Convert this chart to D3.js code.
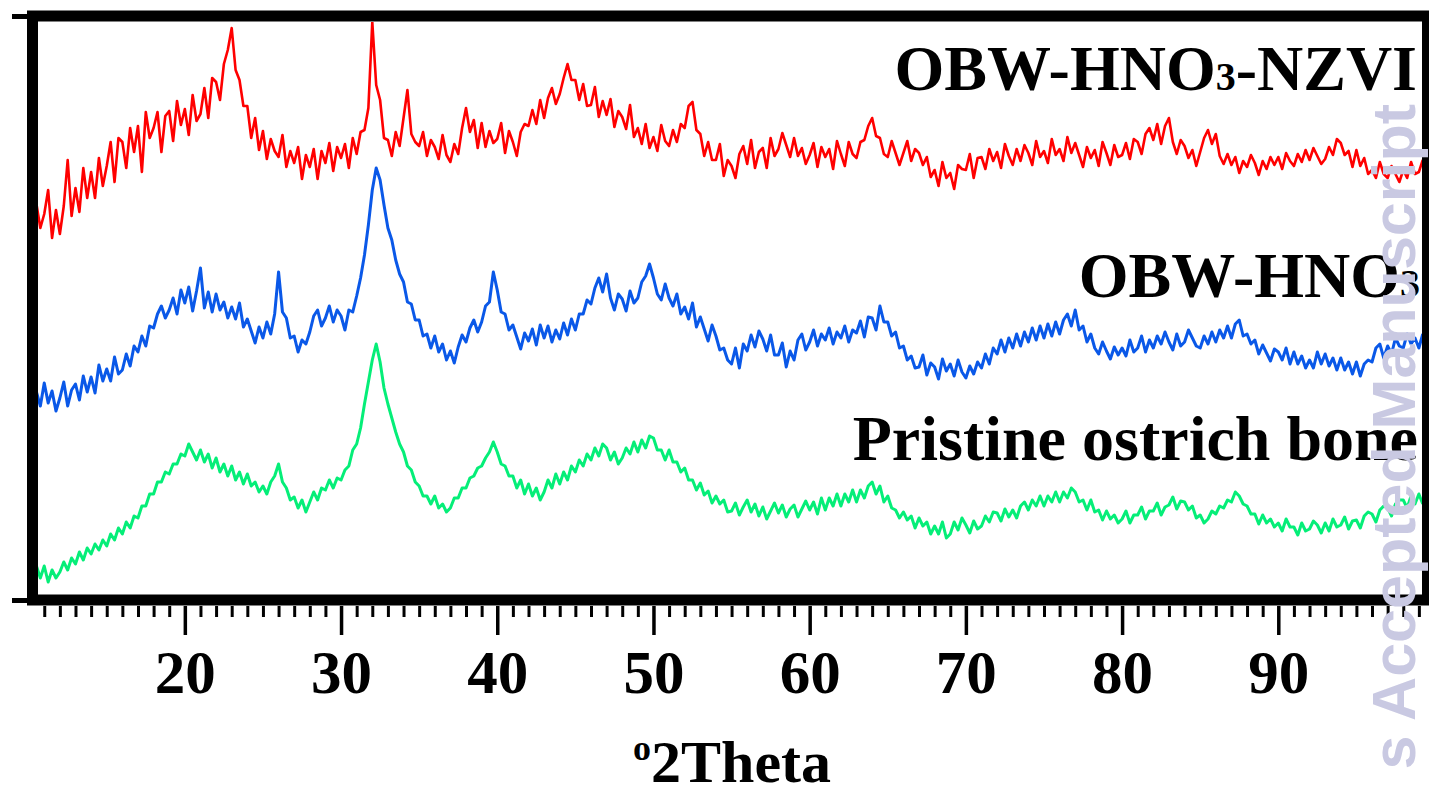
<!DOCTYPE html>
<html>
<head>
<meta charset="utf-8">
<script src="https://cdn.jsdelivr.net/npm/d3@7"></script>
<style>
  html, body { margin: 0; padding: 0; background: #fff; }
  svg { display: block; }
</style>
</head>
<body>
<svg id="chart" width="1429" height="795"></svg>
<script>
// ---- data (2θ sampled every 0.25° starting at 10.5°) ----
const twoThetaStart = 10.5;
const twoThetaStep = 0.25;

const nzviIntensity = [
  396, 372,
  386, 410, 362, 390,  366, 394, 440, 384,  412, 388, 432, 402,  428, 402, 442, 414,
  434, 458, 418, 462,  458, 432, 472, 448,  474, 428, 488, 462,  472, 488, 448, 484,
  489, 459, 499, 475,  491, 465, 505, 479,  486, 512, 482, 522,  518, 500, 536, 550,
  572, 530, 520, 494,  494, 462, 482, 450,  469, 441, 461, 449,  443, 465, 433, 449,
  437, 453, 421, 445,  433, 451, 421, 449,  437, 457, 429, 453,  442, 456, 432, 462,
  446, 468, 470, 492,  578, 515, 500, 462,  460, 444, 468, 454,  482, 510, 466, 458,
  454, 468, 444, 460,  453, 441, 465, 445,  438, 456, 446, 472,  492, 468, 480, 452,
  477, 453, 469, 457,  461, 477, 447, 469,  458, 444, 468, 476,  474, 490, 476, 500,
  482, 502, 512, 496,  506, 522, 536, 520,  520, 500, 516, 494,  495, 513, 483, 499,
  485, 501, 473, 489,  483, 471, 495, 463,  472, 456, 476, 452,  463, 449, 475, 459,
  454, 470, 458, 476,  472, 494, 498, 470,  466, 444, 458, 440,  440, 456, 424, 440,
  434, 422, 446, 454,  436, 460, 432, 448,  452, 432, 462, 444,  451, 467, 455, 443,
  462, 444, 452, 436,  445, 457, 433, 453,  443, 451, 431, 459,  446, 434, 458, 446,
  442, 458, 460, 474,  482, 464, 462, 446,  443, 459, 447, 435,  447, 459, 439, 451,
  447, 435, 443, 423,  430, 414, 438, 422,  427, 411, 435, 431,  430, 446, 422, 442,
  443, 431, 451, 439,  448, 432, 456, 444,  435, 451, 439, 455,  447, 435, 459, 443,
  449, 437, 461, 445,  451, 439, 463, 447,  457, 445, 433, 453,  442, 450, 434, 458,
  447, 435, 455, 443,  445, 457, 441, 461,  458, 446, 466, 472,  460, 476, 456, 474,
  482, 458, 446, 460,  454, 442, 450, 434,  448, 462, 470, 456,  466, 444, 436, 446,
  435, 443, 427, 439,  433, 445, 437, 425,  439, 431, 443, 435,  443, 431, 447, 439,
  434, 446, 438, 450,  440, 452, 444, 436,  441, 453, 445, 461,  457, 445, 449, 433,
  450, 434, 442, 426,  430, 422, 438, 426,  422, 434, 426, 418,  430, 422, 438, 426,
  428, 440
];

const hno3Intensity = [
  208, 194,
  217, 197, 209, 189,  202, 218, 194, 210,  216, 200, 224, 208,  223, 207, 235, 219,
  231, 219, 243, 226,  230, 246, 234, 254,  248, 264, 254, 274,  272, 286, 294, 282,
  290, 302, 286, 310,  297, 313, 289, 309,  332, 292, 308, 288,  306, 290, 298, 282,
  293, 281, 297, 273,  281, 269, 257, 273,  262, 278, 266, 286,  328, 288, 282, 262,
  264, 248, 260, 256,  268, 284, 290, 274,  282, 294, 278, 290,  284, 270, 290, 288,
  304, 322, 345, 375,  410, 432, 420, 395,  372, 360, 340, 326,  318, 298, 296, 280,
  280, 264, 266, 252,  264, 248, 256, 240,  249, 237, 253, 265,  258, 272, 280, 268,
  278, 294, 298, 328,  310, 288, 286, 270,  275, 263, 251, 267,  259, 271, 255, 275,
  262, 274, 258, 270,  261, 277, 265, 281,  270, 286, 286, 300,  296, 312, 322, 308,
  326, 302, 290, 306,  301, 289, 309, 297,  302, 318, 324, 336,  322, 306, 300, 316,
  302, 294, 306, 286,  293, 281, 297, 273,  283, 271, 259, 275,  264, 250, 252, 240,
  236, 252, 232, 256,  249, 265, 253, 269,  261, 249, 265, 245,  245, 257, 233, 249,
  240, 260, 266, 250,  258, 270, 254, 266,  260, 272, 256, 268,  262, 274, 258, 270,
  267, 279, 263, 283,  282, 270, 294, 278,  278, 264, 268, 252,  254, 240, 244, 232,
  233, 245, 225, 237,  233, 221, 241, 229,  236, 224, 240, 228,  222, 234, 226, 238,
  232, 246, 236, 252,  246, 260, 248, 262,  252, 266, 254, 268,  258, 272, 260, 274,
  262, 276, 264, 278,  266, 280, 286, 274,  290, 270, 274, 258,  266, 252, 246, 258,
  249, 241, 253, 245,  252, 244, 260, 248,  252, 264, 248, 260,  252, 264, 256, 268,
  258, 250, 266, 254,  258, 270, 262, 254,  252, 264, 256, 268,  258, 270, 262, 274,
  262, 276, 280, 264,  266, 256, 260, 246,  255, 247, 239, 251,  248, 240, 252, 236,
  248, 236, 244, 232,  240, 232, 248, 236,  246, 234, 242, 230,  242, 230, 238, 226,
  238, 224, 236, 240,  238, 252, 256, 242,  254, 246, 262, 254,  252, 266, 256, 262,
  252, 266
];

const pristineIntensity = [
  34, 22,
  34, 18, 30, 22,  28, 38, 30, 42,  36, 48, 40, 52,  46, 56, 50, 60,
  54, 66, 60, 72,  66, 78, 72, 84,  82, 94, 94, 106,  106, 118, 118, 128,
  126, 136, 136, 146,  144, 156, 148, 140,  150, 138, 146, 132,  142, 128, 136, 124,
  134, 120, 128, 116,  126, 114, 118, 108,  114, 106, 118, 124,  136, 118, 112, 100,
  103, 92, 100, 88,  98, 108, 100, 112,  110, 120, 112, 122,  120, 130, 134, 150,
  156, 172, 196, 218,  240, 256, 238, 212,  196, 182, 168, 156,  148, 134, 130, 118,
  114, 104, 104, 96,  104, 92, 96, 88,  92, 102, 102, 112,  112, 122, 124, 132,
  134, 142, 148, 158,  148, 136, 134, 124,  124, 112, 120, 106,  116, 104, 112, 100,
  108, 120, 112, 126,  116, 128, 120, 134,  128, 140, 134, 146,  140, 152, 144, 156,
  152, 140, 148, 136,  142, 152, 146, 158,  148, 160, 152, 164,  162, 150, 150, 140,
  150, 138, 138, 128,  132, 120, 120, 110,  117, 105, 109, 97,  104, 96, 100, 88,
  89, 97, 85, 93,  100, 88, 96, 84,  93, 81, 89, 97,  87, 95, 83, 91,
  95, 83, 91, 99,  90, 98, 86, 102,  90, 102, 94, 106,  94, 106, 98, 110,
  98, 110, 102, 114,  118, 106, 114, 98,  104, 92, 90, 82,  88, 80, 84, 72,
  82, 74, 78, 66,  74, 66, 78, 62,  66, 78, 70, 82,  75, 67, 79, 71,
  74, 84, 78, 88,  87, 79, 91, 83,  90, 82, 94, 98,  90, 100, 94, 104,
  94, 104, 98, 108,  98, 108, 102, 112,  108, 98, 100, 90,  100, 88, 90, 80,
  89, 81, 85, 77,  81, 89, 77, 85,  85, 93, 81, 89,  89, 97, 85, 93,
  95, 103, 91, 99,  98, 90, 94, 82,  85, 77, 81, 89,  86, 94, 92, 100,
  98, 108, 104, 96,  94, 86, 86, 76,  85, 77, 81, 73,  77, 69, 81, 73,
  73, 65, 77, 69,  71, 79, 75, 67,  77, 69, 81, 73,  75, 83, 71, 79,
  80, 72, 84, 88,  86, 78, 90, 94,  92, 84, 96, 100,  100, 92, 104, 96,
  106, 96
];

const majorTicks = [20, 30, 40, 50, 60, 70, 80, 90];
const xAxisTitle = "2Theta";
const seriesNames = ["OBW-HNO3-NZVI", "OBW-HNO3", "Pristine ostrich bone"];
const seriesColors = ["#ff0000", "#0a58e8", "#05ee78"];

// ---- layout ----
const svg = d3.select("#chart");
const inner = { left: 38, right: 1422, top: 22, bottom: 594 };
const serif = "'Liberation Serif','Times New Roman',Times,serif";

const x = d3.scaleLinear().domain([10.6, 99.2]).range([inner.left, inner.right]);
const y = d3.scaleLinear().domain([0, 580]).range([600, 20]);

svg.append("defs").append("clipPath").attr("id", "plotClip")
  .append("rect")
  .attr("x", inner.left).attr("y", inner.top)
  .attr("width", inner.right - inner.left).attr("height", inner.bottom - inner.top);

const line = d3.line()
  .x((d, i) => x(twoThetaStart + i * twoThetaStep))
  .y(d => y(d));

const series = [nzviIntensity, hno3Intensity, pristineIntensity];
const strokeW = [2.6, 3, 3];
const gLines = svg.append("g").attr("clip-path", "url(#plotClip)");
series.forEach((s, k) => {
  gLines.append("path")
    .datum(s)
    .attr("d", line)
    .attr("fill", "none")
    .attr("stroke", seriesColors[k])
    .attr("stroke-width", strokeW[k])
    .attr("stroke-linejoin", "round");
});

// ---- frame ----
svg.append("rect")
  .attr("x", 32.5).attr("y", 16)
  .attr("width", 1395).attr("height", 584)
  .attr("fill", "none").attr("stroke", "#000").attr("stroke-width", 11);

// left stubs (y-axis end ticks)
const yFrame = d3.scaleLinear().domain([0, 1]).range([600, 16]);
const yAxisG = svg.append("g").attr("transform", "translate(27,0)")
  .call(d3.axisLeft(yFrame).tickValues([0, 1]).tickSize(15).tickFormat(""));
yAxisG.select(".domain").remove();
yAxisG.selectAll(".tick line").attr("stroke", "#000").attr("stroke-width", 5);

// ---- x axis ----
const minorTicks = d3.range(11, 100, 1).filter(v => !majorTicks.includes(v));
const minorG = svg.append("g").attr("transform", "translate(0,606)")
  .call(d3.axisBottom(x).tickValues(minorTicks).tickSize(11).tickFormat(""));
minorG.select(".domain").remove();
minorG.selectAll(".tick line").attr("stroke", "#000").attr("stroke-width", 3);

const majorG = svg.append("g").attr("transform", "translate(0,606)")
  .call(d3.axisBottom(x).tickValues(majorTicks).tickSize(29).tickFormat(d3.format("d")));
majorG.select(".domain").remove();
majorG.selectAll(".tick line").attr("stroke", "#000").attr("stroke-width", 3.5);
majorG.selectAll(".tick text")
  .attr("fill", "#000")
  .attr("dy", 0)
  .attr("y", 87)
  .style("font-family", serif)
  .style("font-weight", "bold")
  .style("font-size", "61px");

// x-axis title: superscript degree "o" + 2Theta
const xt = svg.append("text")
  .attr("x", (inner.left + inner.right) / 2 + 2)
  .attr("y", 782)
  .attr("text-anchor", "middle")
  .style("font-family", serif)
  .style("font-weight", "bold")
  .style("font-size", "60px")
  .attr("fill", "#000");
xt.append("tspan").text("o").style("font-size", "36px").attr("dy", -22);
xt.append("tspan").text(xAxisTitle).attr("dy", 22);

// ---- series labels ----
const labelPos = [
  { x: 1417, y: 90 },
  { x: 1420, y: 297 },
  { x: 1418, y: 460 }
];
seriesNames.forEach((name, k) => {
  const t = svg.append("text")
    .attr("x", labelPos[k].x).attr("y", labelPos[k].y)
    .attr("text-anchor", "end")
    .style("font-family", serif)
    .style("font-weight", "bold")
    .style("font-size", "64px")
    .attr("fill", "#000");
  const parts = name.split("3");
  if (parts.length > 1) {
    t.append("tspan").text(parts[0]);
    t.append("tspan").text("3").style("font-size", "40px");
    if (parts[1]) t.append("tspan").text(parts[1]);
  } else {
    t.text(name);
  }
});

// ---- watermark (kept inside the canvas) ----
svg.append("text")
  .attr("transform", "translate(1415,104) rotate(-90)")
  .attr("text-anchor", "end")
  .style("font-family", "'Liberation Sans', Arial, sans-serif")
  .style("font-weight", "bold")
  .style("font-size", "61px")
  .attr("fill", "#c9c9e2")
  .text("s Accepted Manuscript");
</script>
</body>
</html>
